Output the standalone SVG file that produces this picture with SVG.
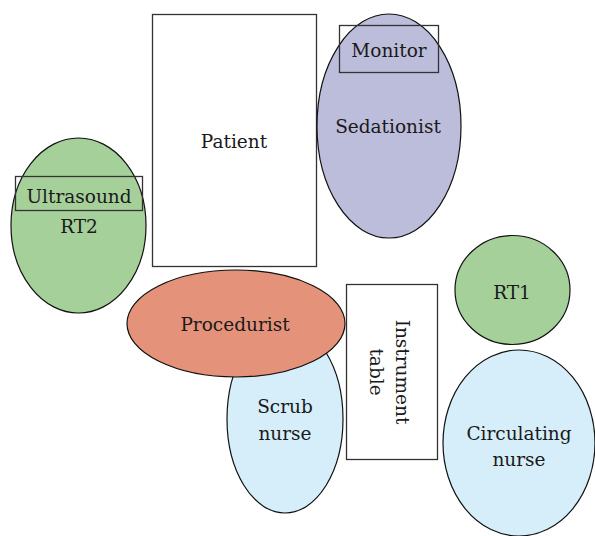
<svg xmlns="http://www.w3.org/2000/svg" width="595" height="536" viewBox="0 0 595 536">
<style>
text{font-family:'DejaVu Serif','Liberation Serif',serif;font-size:18.5px;fill:#1a1a1a;text-anchor:middle}
.e{stroke:#111;stroke-width:1.2}
.r{stroke:#333;stroke-width:1.3}
.green{fill:#a6d09a}
.purple{fill:#bcbcdb}
.salmon{fill:#e5927b}
.blue{fill:#d5eef9}
</style>
<rect width="595" height="536" fill="#fff"/>
<g id="rt2">
<ellipse class="e green" cx="78.5" cy="225.5" rx="67.5" ry="87.5"/>
<text x="79" y="233">RT2</text>
</g>
<g id="ultrasound">
<rect class="r" x="15.5" y="176.5" width="127" height="34" fill="none"/>
<text x="79" y="203">Ultrasound</text>
</g>
<g id="patient">
<rect class="r" x="152.5" y="14.5" width="164" height="252" fill="#fff"/>
<text x="234" y="148">Patient</text>
</g>
<g id="sedationist">
<ellipse class="e purple" cx="389" cy="126" rx="72" ry="112"/>
<text x="388" y="133">Sedationist</text>
</g>
<g id="monitor">
<rect class="r" x="339.5" y="25.5" width="99" height="47" fill="none"/>
<text x="389" y="57">Monitor</text>
</g>
<g id="scrub-nurse">
<ellipse class="e blue" cx="285" cy="419" rx="58" ry="94"/>
<text x="285" y="413">Scrub</text>
<text x="285" y="440">nurse</text>
</g>
<g id="procedurist">
<ellipse class="e salmon" cx="236" cy="323.5" rx="109" ry="53.5"/>
<text x="235" y="331">Procedurist</text>
</g>
<g id="instrument-table">
<rect class="r" x="346.5" y="284.5" width="91" height="175" fill="#fff"/>
<g transform="translate(392,372) rotate(90)">
<text x="0" y="-4">Instrument</text>
<text x="0" y="22">table</text>
</g>
</g>
<g id="rt1">
<ellipse class="e green" cx="512.5" cy="290" rx="57.5" ry="54.5"/>
<text x="512" y="299">RT1</text>
</g>
<g id="circulating-nurse">
<ellipse class="e blue" cx="519" cy="443" rx="76" ry="93"/>
<text x="519" y="440">Circulating</text>
<text x="519" y="466">nurse</text>
</g>
<g id="connectors"/>
</svg>
